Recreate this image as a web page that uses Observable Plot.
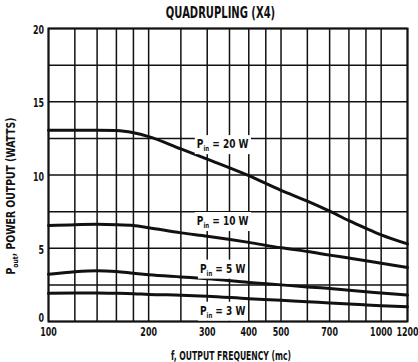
<!DOCTYPE html>
<html><head><meta charset="utf-8">
<script src="https://cdn.jsdelivr.net/npm/d3@7"></script>
<script src="https://cdn.jsdelivr.net/npm/@observablehq/plot@0.6"></script>
<style>
html,body{margin:0;padding:0;background:#fff;}
#chart{width:418px;height:362px;}
</style>
</head><body><div id="chart"></div>
<script>
const FONT = "'DejaVu Sans Condensed','DejaVu Sans',sans-serif";

const titleText = "QUADRUPLING (X4)";
const xLabelText = "f, OUTPUT FREQUENCY (mc)";
const yLabelMain = "P";
const yLabelSub = "out";
const yLabelRest = ", POWER OUTPUT (WATTS)";

const xTicks = [100, 200, 300, 400, 500, 700, 1000, 1200];
const yTicks = [0, 5, 10, 15, 20];
const gridX = [100, 120, 140, 160, 180, 200, 250, 300, 350, 400, 450, 500, 600, 700, 800, 900, 1000, 1200];
const gridY = [0, 2.5, 5, 7.5, 10, 12.5, 15, 17.5, 20];

const freq = [100, 120, 140, 160, 180, 200, 250, 300, 400, 500, 600, 700, 800, 900, 1000, 1200];
const p20 = [13.05, 13.05, 13.05, 13.03, 12.88, 12.62, 11.78, 11.08, 9.95, 8.95, 8.22, 7.53, 6.88, 6.36, 5.92, 5.3];
const p10 = [6.55, 6.61, 6.63, 6.61, 6.55, 6.4, 6.05, 5.82, 5.4, 5.03, 4.78, 4.53, 4.33, 4.15, 3.98, 3.69];
const p5  = [3.22, 3.4, 3.47, 3.41, 3.29, 3.19, 3.04, 2.92, 2.67, 2.5, 2.36, 2.25, 2.13, 2.03, 1.95, 1.8];
const p3  = [1.92, 1.94, 1.95, 1.93, 1.9, 1.85, 1.8, 1.73, 1.56, 1.45, 1.34, 1.27, 1.19, 1.13, 1.08, 1.01];

const seriesNames = ["20", "10", "5", "3"];
const seriesValues = [p20, p10, p5, p3];
const labelF = [335, 335, 335, 335];
const labelP = [12.1, 6.85, 3.6, 0.73];

const rows = [];
seriesValues.forEach((vals, s) => freq.forEach((f, i) => rows.push({f, p: vals[i], s: seriesNames[s]})));

const plot = Plot.plot({
  width: 418, height: 362,
  marginLeft: 48, marginRight: 11, marginTop: 28, marginBottom: 41,
  style: {fontFamily: FONT, fontWeight: "bold", background: "#fff", color: "#111", overflow: "visible"},
  x: {type: "log", domain: [100, 1200], axis: null},
  y: {domain: [0, 20], axis: null},
  marks: [
    Plot.ruleX(gridX, {stroke: "#111", strokeWidth: 1.5}),
    Plot.ruleY(gridY, {stroke: "#111", strokeWidth: 1.5}),
    Plot.line(rows, {x: "f", y: "p", z: "s", curve: "monotone-x", stroke: "#111", strokeWidth: 3}),
    Plot.frame({stroke: "#111", strokeWidth: 2}),
    Plot.text(xTicks, {x: d => d, text: d => String(d), frameAnchor: "bottom", lineAnchor: "middle", dy: 10, fontSize: 13, className: "tick"}),
    Plot.text(yTicks.filter(d => d > 0), {y: d => d, text: d => String(d), frameAnchor: "left", lineAnchor: "middle", dx: -4.5, dy: 1.5, textAnchor: "end", fontSize: 13, className: "tick"}),
    Plot.text(yTicks.filter(d => d === 0), {y: d => d, text: d => String(d), frameAnchor: "left", lineAnchor: "middle", dx: -4.5, dy: -4, textAnchor: "end", fontSize: 13, className: "tick"}),
    Plot.text([titleText], {frameAnchor: "top", lineAnchor: "middle", dy: -15.5, dx: -7.5, fontSize: 15, className: "lbl"}),
    Plot.text([xLabelText], {frameAnchor: "bottom", lineAnchor: "middle", dy: 35, dx: 3, fontSize: 11.5, className: "lbl"})
  ]
});
document.getElementById("chart").appendChild(plot);

function condense(sel, factor) {
  sel.each(function () {
    const len = this.getComputedTextLength();
    if (len > 0) {
      this.setAttribute("textLength", (len * factor).toFixed(2));
      this.setAttribute("lengthAdjust", "spacingAndGlyphs");
    }
  });
}

const svg = d3.select(plot);
condense(svg.selectAll(".tick text"), 0.68);
condense(svg.selectAll(".lbl text"), 0.74);

const sx = plot.scale("x"), sy = plot.scale("y");
const g = svg.append("g").attr("font-family", FONT).attr("font-weight", "bold").attr("fill", "#111");

seriesNames.forEach((w, i) => {
  const x = sx.apply(labelF[i]), y = sy.apply(labelP[i]);
  const lg = g.append("g");
  const t = lg.append("text").attr("x", x).attr("y", y).attr("text-anchor", "middle").attr("dy", "0.35em").attr("font-size", 12.5);
  t.append("tspan").text("P");
  t.append("tspan").attr("font-size", 7.5).attr("dy", 3).text("in");
  t.append("tspan").attr("dy", -3).text(" = " + w + " W");
  condense(t, 0.8);
  const bb = t.node().getBBox();
  lg.insert("rect", "text").attr("x", bb.x - 2).attr("y", bb.y - 1).attr("width", bb.width + 4).attr("height", bb.height + 2).attr("fill", "#fff");
});

const yl = g.append("text").attr("transform", "translate(11,196) rotate(-90)").attr("text-anchor", "middle").attr("dy", "0.35em").attr("font-size", 11.5);
yl.append("tspan").text(yLabelMain);
yl.append("tspan").attr("font-size", 7.5).attr("dy", 3).text(yLabelSub);
yl.append("tspan").attr("dy", -3).text(yLabelRest);
condense(yl, 0.9);
</script>
</body></html>
